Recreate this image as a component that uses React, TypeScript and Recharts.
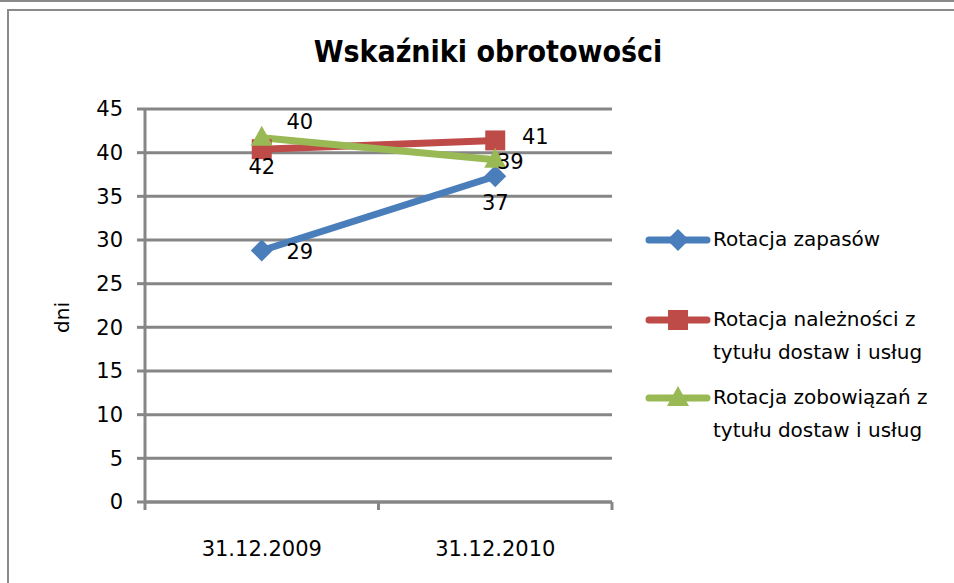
import React from "react"
import {
  LineChart,
  Line,
  XAxis,
  YAxis,
  CartesianGrid,
  LabelList,
} from "recharts"

const categories = ["31.12.2009", "31.12.2010"]
const rotacjaZapasow = [28.8, 37.3]
const rotacjaNaleznosci = [40.4, 41.4]
const rotacjaZobowiazan = [41.7, 39.2]
const yTicks = [0, 5, 10, 15, 20, 25, 30, 35, 40, 45]

const FONT = "'DejaVu Sans', sans-serif"
const GRAY = "#868686"

const data = categories.map((cat, i) => ({
  pos: i + 0.5,
  cat,
  zapasy: rotacjaZapasow[i],
  naleznosci: rotacjaNaleznosci[i],
  zobowiazania: rotacjaZobowiazan[i],
}))

type Marker = "diamond" | "square" | "triangle"

const series = [
  {
    key: "zapasy",
    name: "Rotacja zapasów",
    color: "#4a7ebb",
    marker: "diamond" as Marker,
    // label offsets per point (dx, dy)
    labelOffsets: [
      [38, 2],
      [0, 27],
    ],
  },
  {
    key: "naleznosci",
    name: "Rotacja należności z tytułu dostaw i usług",
    color: "#be4b48",
    marker: "square" as Marker,
    labelOffsets: [
      [38, -27],
      [40, -3],
    ],
  },
  {
    key: "zobowiazania",
    name: "Rotacja zobowiązań z tytułu dostaw i usług",
    color: "#98b954",
    marker: "triangle" as Marker,
    labelOffsets: [
      [0, 29],
      [15, 2],
    ],
  },
]

function markerPath(marker: Marker, cx: number, cy: number) {
  if (marker === "diamond") {
    return `M${cx},${cy - 11}L${cx + 11},${cy}L${cx},${cy + 11}L${cx - 11},${cy}Z`
  }
  if (marker === "square") {
    return `M${cx - 10},${cy - 10}L${cx + 10},${cy - 10}L${cx + 10},${cy + 10}L${cx - 10},${cy + 10}Z`
  }
  return `M${cx},${cy - 12}L${cx + 11},${cy + 8}L${cx - 11},${cy + 8}Z`
}

const makeDot = (marker: Marker, color: string) => (props: any) => {
  const { cx, cy, index } = props
  if (cx == null || cy == null) return <g key={index} />
  return <path key={index} d={markerPath(marker, cx, cy)} fill={color} />
}

const makeLabel = (offsets: number[][]) => (props: any) => {
  const { x, y, value, index } = props
  const [dx, dy] = offsets[index] || [0, 0]
  return (
    <text
      x={x + dx}
      y={y + dy}
      textAnchor="middle"
      dominantBaseline="central"
      fontFamily={FONT}
      fontSize={21}
      fill="#000"
    >
      {Math.round(value)}
    </text>
  )
}

const XTick = (props: any) => {
  const { x, y, payload } = props
  const v = payload.value
  if (Number.isInteger(v)) {
    return <line x1={x} y1={y} x2={x} y2={y + 8} stroke={GRAY} strokeWidth={3} />
  }
  return (
    <text
      x={x}
      y={y + 47}
      textAnchor="middle"
      dominantBaseline="central"
      fontFamily={FONT}
      fontSize={21}
      fill="#000"
    >
      {categories[Math.floor(v)]}
    </text>
  )
}

const YLabel = (props: any) => {
  const vb = props.viewBox
  const cy = vb.y + vb.height / 2 + 12
  return (
    <text
      x={62}
      y={cy}
      transform={`rotate(-90, 62, ${cy})`}
      textAnchor="middle"
      dominantBaseline="central"
      fontFamily={FONT}
      fontSize={20}
      fill="#000"
    >
      dni
    </text>
  )
}

function LegendIcon({ marker, color }: { marker: Marker; color: string }) {
  return (
    <svg width={66} height={28} style={{ position: "absolute", left: 0, top: -14 }}>
      <line x1={4} y1={14} x2={62} y2={14} stroke={color} strokeWidth={7} strokeLinecap="round" />
      <path d={markerPath(marker, 33, 14)} fill={color} />
    </svg>
  )
}

const legendTops = [240, 320, 398]

export default function App() {
  return (
    <div
      style={{
        position: "absolute",
        left: 0,
        top: 0,
        width: 954,
        height: 583,
        overflow: "hidden",
        background: "#fff",
      }}
    >
      <div style={{ position: "absolute", left: 0, top: 0, width: 954, height: 2, background: "#8a8a8a" }} />
      <div
        style={{
          position: "absolute",
          left: 7,
          top: 9,
          width: 960,
          height: 600,
          border: "2px solid #8a8a8a",
        }}
      />
      <div
        style={{
          position: "absolute",
          left: 0,
          width: 976,
          top: 34,
          textAlign: "center",
          fontFamily: "'DejaVu Sans Condensed', 'DejaVu Sans', sans-serif",
          fontWeight: "bold",
          fontSize: 30,
          color: "#000",
        }}
      >
        Wskaźniki obrotowości
      </div>
      <div style={{ position: "absolute", left: 0, top: 0 }}>
        <LineChart
          width={954}
          height={583}
          data={data}
          margin={{ top: 109, right: 342, bottom: 0, left: 0 }}
        >
          <CartesianGrid horizontal vertical={false} stroke={GRAY} strokeWidth={3} />
          <XAxis
            dataKey="pos"
            type="number"
            domain={[0, 2]}
            ticks={[0, 0.5, 1, 1.5, 2]}
            interval={0}
            height={81}
            tickLine={false}
            tickSize={0}
            tickMargin={0}
            axisLine={{ stroke: GRAY, strokeWidth: 3 }}
            tick={<XTick />}
          />
          <YAxis
            domain={[0, 45]}
            ticks={yTicks}
            interval={0}
            width={145}
            tickSize={8}
            tickMargin={14}
            tickLine={{ stroke: GRAY, strokeWidth: 3 }}
            axisLine={{ stroke: GRAY, strokeWidth: 3 }}
            tick={{ fontFamily: FONT, fontSize: 21, fill: "#000" }}
            label={<YLabel />}
          />
          {series.map((s) => (
            <Line
              key={s.key}
              dataKey={s.key}
              name={s.name}
              type="linear"
              stroke={s.color}
              strokeWidth={7}
              strokeLinecap="round"
              dot={makeDot(s.marker, s.color)}
              activeDot={false}
              isAnimationActive={false}
            >
              <LabelList dataKey={s.key} content={makeLabel(s.labelOffsets)} />
            </Line>
          ))}
        </LineChart>
      </div>
      {series.map((s, i) => (
        <div
          key={s.key}
          style={{ position: "absolute", left: 645, top: legendTops[i], width: 300 }}
        >
          <LegendIcon marker={s.marker} color={s.color} />
          <div
            style={{
              position: "absolute",
              left: 68,
              top: -17,
              width: 228,
              fontFamily: FONT,
              fontSize: 20,
              lineHeight: "33px",
              color: "#000",
            }}
          >
            {s.name}
          </div>
        </div>
      ))}
    </div>
  )
}
